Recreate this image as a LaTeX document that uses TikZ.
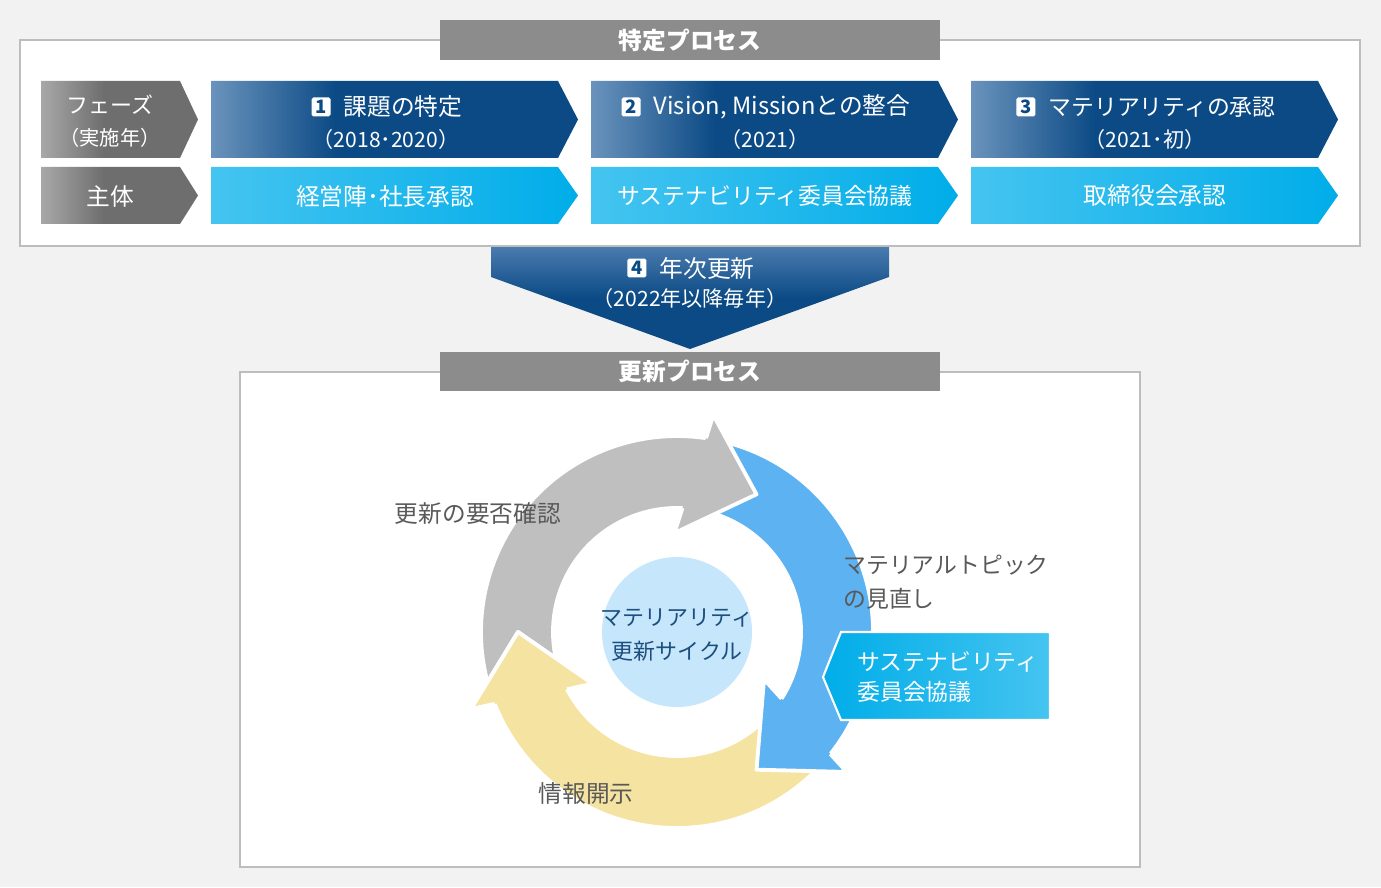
\documentclass[tikz,border=0pt]{standalone}
\usepackage{fontspec}
\setmainfont{Noto Sans CJK JP}
\usetikzlibrary{positioning}
\definecolor{bgcol}{HTML}{F2F2F2}
\definecolor{framegrey}{HTML}{BDBDBD}
\definecolor{tabgrey}{HTML}{8C8C8C}
\definecolor{navydark}{HTML}{0B4A85}
\definecolor{navylight}{HTML}{6A93BC}
\definecolor{navymid}{HTML}{4A7BAE}
\definecolor{skylight}{HTML}{45C4F0}
\definecolor{skydark}{HTML}{00ADE9}
\definecolor{greylight}{HTML}{A8A8A8}
\definecolor{greydark}{HTML}{6E6E6E}
\definecolor{cycgrey}{HTML}{BFBFBF}
\definecolor{cycblue}{HTML}{5DB2F1}
\definecolor{cycyellow}{HTML}{F5E3A1}
\definecolor{hubblue}{HTML}{C6E6FC}
\definecolor{hubtext}{HTML}{1C4F7F}
\definecolor{labelgrey}{HTML}{595959}
\pgfdeclarehorizontalshading{navyfade}{100bp}{color(0bp)=(navylight); color(25bp)=(navylight); color(42bp)=(navydark); color(100bp)=(navydark)}
\pgfdeclarehorizontalshading{greyfade}{100bp}{color(0bp)=(greylight); color(25bp)=(greylight); color(45bp)=(greydark); color(100bp)=(greydark)}
\pgfdeclareverticalshading{navydrop}{100bp}{color(0bp)=(navydark); color(50bp)=(navydark); color(75bp)=(navymid); color(100bp)=(navymid)}

\begin{document}
\begin{tikzpicture}[x=0.02cm, y=0.02cm,
  frame/.style={fill=white, draw=framegrey, line width=0.8pt},
  tabbox/.style={fill=tabgrey},
  tabtext/.style={text=white, inner sep=0pt, font=\fontsize{13.5}{16}\selectfont\bfseries},
  navybar/.style={shade, shading=navyfade},
  skybar/.style={left color=skylight, right color=skydark},
  greybar/.style={shade, shading=greyfade},
  head/.style={text=white, inner sep=0pt, font=\fontsize{13.5}{16}\selectfont},
  sub/.style={text=white, inner sep=0pt, font=\fontsize{12}{14}\selectfont},
  badge/.style={fill=white, rounded corners=1pt, minimum size=0.38cm, inner sep=0pt,
    text=navydark, font=\fontsize{10.5}{12}\selectfont\bfseries},
  ringline/.style={draw=white, line width=2.2pt, line join=round},
  cyclabel/.style={text=labelgrey, inner sep=0pt, align=left, font=\fontsize{13.5}{19.3}\selectfont},
]
  \useasboundingbox (0,0) rectangle (1381,887);
  \fill[bgcol] (0,0) rectangle (1381,887);

  % Specific process
  \draw[frame] (20,641) rectangle (1360,847);
  \fill[tabbox] (440,827) rectangle (940,867);
  \node[tabtext] (tab1) at (690,847) {特定プロセス};

  % Left column
  \path[greybar] (41,806) -- (180,806) -- (198,767.5) -- (180,729) -- (41,729) -- cycle;
  \path[greybar] (41,720) -- (180,720) -- (198,691.5) -- (180,663) -- (41,663) -- cycle;
  \node[head, font=\fontsize{12.5}{16}\selectfont] (phase) at (110,782) {フェーズ};
  \node[sub, font=\fontsize{11.5}{14}\selectfont] (phaseyr) at (110,749) {（実施年）};
  \node[head] (actor) at (110,691) {主体};

  % Phase bars
  \foreach \xa/\xb/\xc in {211/558/578, 591/938/958, 971/1318/1338}{
    \path[navybar] (\xa,806) -- (\xb,806) -- (\xc,767.5) -- (\xb,729) -- (\xa,729) -- cycle;
    \path[skybar] (\xa,720) -- (\xb,720) -- (\xc,691.5) -- (\xb,663) -- (\xa,663) -- cycle;
  }
  \node[head] (p1) at (403,780) {課題の特定};
  \node[badge, left=0.25cm of p1] (b1) {1};
  \node[sub] (y1) at (386,748) {（2018･2020）};
  \node[head] (a1) at (385,691) {経営陣･社長承認};

  \node[head] (p2) at (782,780) {Vision, Missionとの整合};
  \node[badge, left=0.25cm of p2] (b2) {2};
  \node[sub] (y2) at (765,748) {（2021）};
  \node[head, font=\fontsize{13}{16}\selectfont] (a2) at (765,691) {サステナビリティ委員会協議};

  \node[head, font=\fontsize{13}{16}\selectfont] (p3) at (1162,780) {マテリアリティの承認};
  \node[badge, left=0.25cm of p3] (b3) {3};
  \node[sub] (y3) at (1145,748) {（2021･初）};
  \node[head] (a3) at (1155,691) {取締役会承認};

  % Annual update
  \path[shade, shading=navydrop] (491,640) -- (889,640) -- (889,610) -- (690,538) -- (491,610) -- cycle;
  \node[head] (p4) at (707,619) {年次更新};
  \node[badge, left=0.25cm of p4] (b4) {4};
  \node[sub] (y4) at (690,589) {（2022年以降毎年）};

  % Update process
  \draw[frame] (240,20) rectangle (1140,515);
  \fill[tabbox] (440,496) rectangle (940,535);
  \node[tabtext] (tab2) at (690,515.5) {更新プロセス};

  % Cycle arrows
  \foreach \col/\rot in {cycgrey/0, cycblue/-120, cycyellow/120}{
    \begin{scope}[shift={(677,255)}, rotate=\rot]
      \path[fill=\col, ringline] (198:196) arc[start angle=198, end angle=81.5, radius=196]
        -- (80.5:220) -- (60:159) -- (91.5:99) -- (87.5:124)
        arc[start angle=87.5, end angle=198, radius=124] -- cycle;
    \end{scope}
  }
  \foreach \col/\rot in {cycgrey/0, cycblue/-120, cycyellow/120}{
    \begin{scope}[shift={(677,255)}, rotate=\rot]
      \fill[\col] (81.5:196) -- (80.5:220) -- (60:159) -- (91.5:99) -- (87.5:124) -- cycle;
      \draw[ringline] (81.5:196) -- (80.5:220) -- (60:159) -- (91.5:99) -- (87.5:124);
    \end{scope}
  }
  \fill[hubblue] (677,255) circle[radius=75];
  \node[text=hubtext, align=center, font=\fontsize{12.5}{19.3}\selectfont] (hub) at (677,252)
    {マテリアリティ\\更新サイクル};

  % Labels
  \node[cyclabel] (check) at (478,373) {更新の要否確認};
  \node[cyclabel, anchor=west, font=\fontsize{13}{19.3}\selectfont] (review) at (843,305)
    {マテリアルトピック\\の見直し};
  \node[cyclabel] (disclose) at (586,94) {情報開示};

  % Committee tag
  \path[left color=skydark, right color=skylight, draw=white, line width=1.2pt]
    (823,210) -- (841,255) -- (1050,255) -- (1050,167) -- (841,167) -- cycle;
  \node[head, anchor=west, align=left, font=\fontsize{13}{17}\selectfont] (committee) at (857,210)
    {サステナビリティ\\委員会協議};
\end{tikzpicture}
\end{document}
